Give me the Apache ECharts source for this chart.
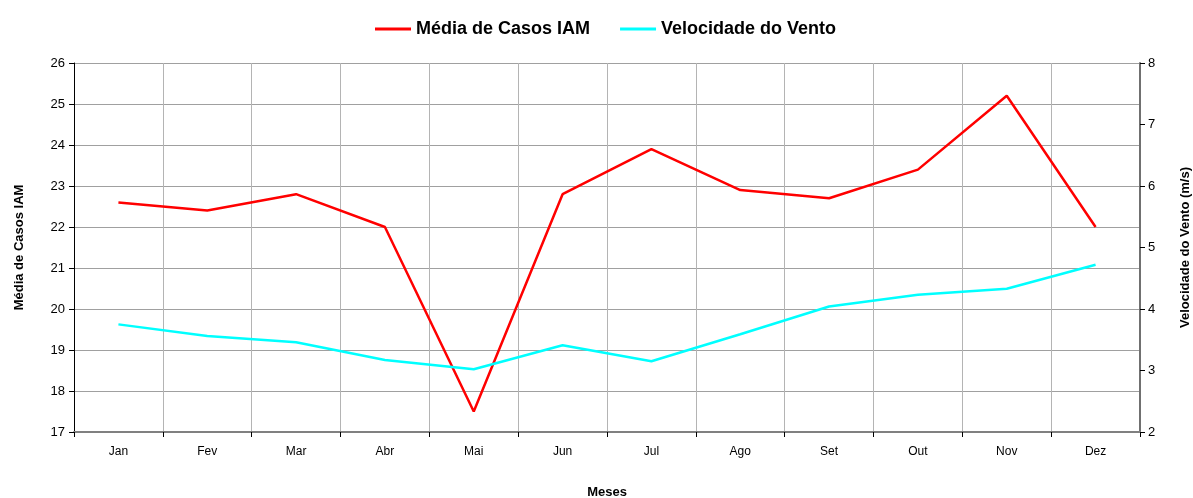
<!DOCTYPE html>
<html>
<head>
<meta charset="utf-8">
<script src="https://cdn.jsdelivr.net/npm/echarts@6/dist/echarts.min.js"></script>
<style>
  html, body { margin: 0; padding: 0; background: #fff; }
  #chartsCover { width: 1193px; height: 498px; }
</style>
</head>
<body>
<div id="chartsCover"></div>
<script>
    // meses e valores
    var meses = ['Jan', 'Fev', 'Mar', 'Abr', 'Mai', 'Jun', 'Jul', 'Ago', 'Set', 'Out', 'Nov', 'Dez'];
    var mediaCasos = [22.6, 22.4, 22.8, 22.0, 17.5, 22.8, 23.9, 22.9, 22.7, 23.4, 25.2, 22.0];
    var velVento = [3.75, 3.56, 3.46, 3.17, 3.02, 3.41, 3.15, 3.59, 4.04, 4.23, 4.33, 4.72];

    var fonte = 'Liberation Sans, Arial, sans-serif';

    var chartsOption = {
      animation: false,
      textStyle: { fontFamily: fonte },
      legend: {
        top: 15,
        left: 370,
        icon: 'rect',
        itemWidth: 36,
        itemHeight: 3,
        itemGap: 30,
        textStyle: { fontSize: 18, fontWeight: 'bold', color: '#000', fontFamily: fonte },
        data: ['Média de Casos IAM', 'Velocidade do Vento']
      },
      grid: {
        left: 74,
        right: 53,
        top: 63,
        bottom: 66,
        outerBoundsMode: 'none',
        containLabel: false
      },
      xAxis: {
        type: 'category',
        data: meses,
        boundaryGap: true,
        name: 'Meses',
        nameLocation: 'middle',
        nameGap: 54,
        nameTextStyle: { fontSize: 13, fontWeight: 'bold', color: '#000' },
        axisLine: { lineStyle: { color: '#808080', width: 2 } },
        axisTick: { show: true, length: 5, lineStyle: { color: '#000' } },
        axisLabel: { fontSize: 12, color: '#000', margin: 14 },
        splitLine: { show: true, lineStyle: { color: '#b4b4b4', width: 1 } }
      },
      yAxis: [
        {
          type: 'value',
          min: 17,
          max: 26,
          interval: 1,
          name: 'Média de Casos IAM',
          nameLocation: 'middle',
          nameRotate: 90,
          nameGap: 48,
          nameTextStyle: { fontSize: 13, fontWeight: 'bold', color: '#000' },
          axisLine: { show: true, lineStyle: { color: '#000', width: 1 } },
          axisTick: { show: true, length: 5, lineStyle: { color: '#000' } },
          axisLabel: { fontSize: 13, color: '#000', margin: 9 },
          splitLine: { show: true, lineStyle: { color: '#a0a0a0', width: 1 } }
        },
        {
          type: 'value',
          min: 2,
          max: 8,
          interval: 1,
          position: 'right',
          name: 'Velocidade do Vento (m/s)',
          nameLocation: 'middle',
          nameRotate: 90,
          nameGap: 39,
          nameTextStyle: { fontSize: 13, fontWeight: 'bold', color: '#000' },
          axisLine: { show: true, lineStyle: { color: '#707070', width: 2 } },
          axisTick: { show: true, length: 5, lineStyle: { color: '#000' } },
          axisLabel: { fontSize: 13, color: '#000', margin: 8 },
          splitLine: { show: false }
        }
      ],
      series: [
        {
          name: 'Média de Casos IAM',
          type: 'line',
          yAxisIndex: 0,
          data: mediaCasos,
          symbol: 'none',
          lineStyle: { color: '#ff0000', width: 2.5 },
          itemStyle: { color: '#ff0000' }
        },
        {
          name: 'Velocidade do Vento',
          type: 'line',
          yAxisIndex: 1,
          data: velVento,
          symbol: 'none',
          lineStyle: { color: '#00ffff', width: 2.5 },
          itemStyle: { color: '#00ffff' }
        }
      ]
    };

    var myChart = echarts.init(document.getElementById('chartsCover'));
    chartsOption && myChart.setOption(chartsOption, true);
</script>
</body>
</html>
